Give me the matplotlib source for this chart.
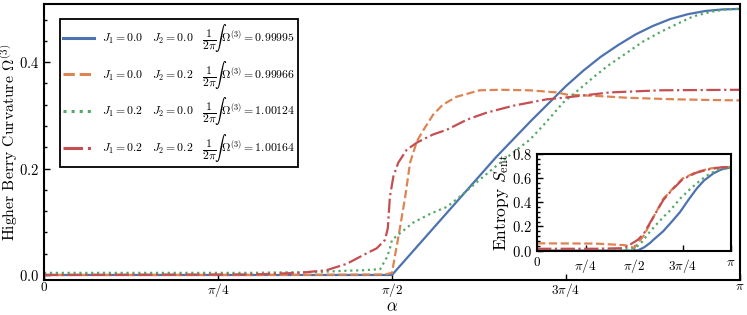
import numpy as np
import matplotlib.pyplot as plt
from matplotlib.ticker import MultipleLocator

plt.rcParams['font.family'] = 'serif'
plt.rcParams['font.serif'] = ['cmr10', 'DejaVu Serif']
plt.rcParams['mathtext.fontset'] = 'cm'
plt.rcParams['axes.formatter.use_mathtext'] = True
plt.rcParams['axes.unicode_minus'] = False

# kleuren (seaborn deep)
c_blue, c_orange, c_green, c_red = '#4C72B0', '#DD8452', '#55A868', '#C44E52'

#%% data hoofdfiguur, x in eenheden van pi
a_blue = [0, 0.5, 0.55, 0.6, 0.65, 0.7, 0.75, 0.775, 0.8, 0.825, 0.85, 0.875,
          0.9, 0.925, 0.95, 0.975, 1.0]
y_blue = [0, 0, 0.074, 0.148, 0.222, 0.29, 0.355, 0.384, 0.41, 0.432, 0.452,
          0.468, 0.481, 0.490, 0.496, 0.499, 0.5]

a_orange = [0, 0.3, 0.49, 0.5, 0.504, 0.511, 0.519, 0.526, 0.536, 0.545, 0.559,
            0.573, 0.593, 0.626, 0.655, 0.698, 0.737, 0.751, 0.8, 0.838, 0.909,
            0.95, 1.0]
y_orange = [0.0, 0.0, 0.001, 0.004, 0.034, 0.085, 0.147, 0.211, 0.252, 0.272,
            0.301, 0.32, 0.335, 0.347, 0.348, 0.347, 0.343, 0.339, 0.336, 0.333,
            0.330, 0.329, 0.328]

a_green = [0, 0.1, 0.2, 0.3, 0.35, 0.4, 0.435, 0.46, 0.483, 0.493, 0.497, 0.5,
           0.514, 0.53, 0.555, 0.579, 0.6, 0.626, 0.65, 0.674, 0.698, 0.72,
           0.746, 0.77, 0.789, 0.81, 0.838, 0.86, 0.885, 0.91, 0.933, 0.96,
           0.98, 1.0]
y_green = [0.004, 0.004, 0.004, 0.004, 0.005, 0.006, 0.008, 0.009, 0.011, 0.034,
           0.05, 0.066, 0.081, 0.098, 0.115, 0.128, 0.15, 0.179, 0.205, 0.23,
           0.254, 0.285, 0.324, 0.35, 0.371, 0.393, 0.418, 0.438, 0.456, 0.472,
           0.486, 0.495, 0.499, 0.5]

a_red = [0, 0.3, 0.368, 0.406, 0.435, 0.464, 0.478, 0.49, 0.494, 0.497, 0.502,
         0.509, 0.521, 0.536, 0.559, 0.579, 0.608, 0.636, 0.674, 0.722, 0.746,
         0.813, 0.885, 1.0]
y_red = [0.0, 0.001, 0.004, 0.009, 0.021, 0.041, 0.05, 0.066, 0.088, 0.147,
         0.185, 0.211, 0.235, 0.249, 0.264, 0.273, 0.292, 0.305, 0.318, 0.33,
         0.333, 0.343, 0.347, 0.348]

#%% data inzet (entropie)
ai_blue = [0, 0.5, 0.52, 0.55, 0.58, 0.6, 0.65, 0.7, 0.737, 0.78, 0.823, 0.86,
           0.909, 0.95, 1.0]
si_blue = [0, 0, 0.003, 0.025, 0.06, 0.09, 0.16, 0.25, 0.32, 0.42, 0.514, 0.58,
           0.64, 0.672, 0.69]
ai_orange = [0, 0.3, 0.45, 0.48, 0.5, 0.516, 0.55, 0.6, 0.651, 0.7, 0.75, 0.82,
             0.89, 0.95, 1.0]
si_orange = [0.06, 0.058, 0.045, 0.035, 0.02, 0.055, 0.125, 0.278, 0.43, 0.514,
             0.597, 0.65, 0.68, 0.69, 0.693]
ai_green = [0, 0.2, 0.4, 0.48, 0.5, 0.52, 0.54, 0.582, 0.617, 0.651, 0.686,
            0.737, 0.789, 0.84, 0.892, 0.943, 1.0]
si_green = [0.006, 0.006, 0.008, 0.012, 0.02, 0.04, 0.07, 0.157, 0.22, 0.278,
            0.333, 0.43, 0.51, 0.58, 0.64, 0.675, 0.69]
ai_red = [0, 0.3, 0.45, 0.49, 0.5, 0.52, 0.55, 0.6, 0.651, 0.7, 0.75, 0.82,
          0.89, 0.95, 1.0]
si_red = [0.015, 0.015, 0.02, 0.06, 0.07, 0.09, 0.14, 0.28, 0.42, 0.51, 0.59,
          0.645, 0.675, 0.69, 0.693]

labels = [r'$J_1 = 0.0\quad J_2 = 0.0\quad \dfrac{1}{2\pi}\!\int\Omega^{(3)} = 0.99995$',
          r'$J_1 = 0.0\quad J_2 = 0.2\quad \dfrac{1}{2\pi}\!\int\Omega^{(3)} = 0.99966$',
          r'$J_1 = 0.2\quad J_2 = 0.0\quad \dfrac{1}{2\pi}\!\int\Omega^{(3)} = 1.00124$',
          r'$J_1 = 0.2\quad J_2 = 0.2\quad \dfrac{1}{2\pi}\!\int\Omega^{(3)} = 1.00164$']

xticks = [0, np.pi/4, np.pi/2, 3*np.pi/4, np.pi]
xticklabels = ['0', r'$\pi/4$', r'$\pi/2$', r'$3\pi/4$', r'$\pi$']

#%% figuur
fig = plt.figure(figsize=(7.47, 3.15), dpi=100)
ax = fig.add_axes([0.0589, 0.111, 0.9317, 0.876])

lw = 1.6
ax.plot(np.array(a_blue)*np.pi, y_blue, color=c_blue, lw=lw, ls='-', label=labels[0])
ax.plot(np.array(a_orange)*np.pi, y_orange, color=c_orange, lw=lw, ls='--', label=labels[1])
ax.plot(np.array(a_green)*np.pi, y_green, color=c_green, lw=lw, ls=':', label=labels[2])
ax.plot(np.array(a_red)*np.pi, y_red, color=c_red, lw=lw, ls='-.', label=labels[3])

ax.set_xlim(0, np.pi)
ax.set_ylim(-0.0095, 0.509)
ax.set_xticks(xticks)
ax.set_xticklabels(xticklabels)
ax.set_yticks([0.0, 0.2, 0.4])
ax.yaxis.set_minor_locator(MultipleLocator(0.04))
ax.tick_params(direction='in', labelsize=9.5, length=4, width=1)
ax.tick_params(axis='y', labelsize=10.5)
ax.tick_params(which='minor', direction='in', length=2.5, width=1)
ax.tick_params(axis='x', pad=1)
ax.set_xlabel(r'$\alpha$', fontsize=12, labelpad=-0.5)
ax.set_ylabel(r'Higher Berry Curvature $\Omega^{(3)}$', fontsize=11.3, labelpad=-0.5)
for sp in ax.spines.values():
    sp.set_linewidth(1.5)

leg = ax.legend(loc='upper left', bbox_to_anchor=(0.023, 0.946), borderaxespad=0,
                fontsize=8.5, labelspacing=0.4, handlelength=2.6, handletextpad=0.7,
                borderpad=0.25, fancybox=False, framealpha=1, edgecolor='black')
leg.get_frame().set_linewidth(1.3)
for h in leg.get_lines():
    h.set_linewidth(2.2)

#%% inzet
axi = fig.add_axes([0.719, 0.203, 0.2597, 0.308])
axi.plot(np.array(ai_blue)*np.pi, si_blue, color=c_blue, lw=lw, ls='-')
axi.plot(np.array(ai_orange)*np.pi, si_orange, color=c_orange, lw=lw, ls='--')
axi.plot(np.array(ai_green)*np.pi, si_green, color=c_green, lw=lw, ls=':')
axi.plot(np.array(ai_red)*np.pi, si_red, color=c_red, lw=lw, ls='-.')
axi.set_xlim(0, np.pi)
axi.set_ylim(-0.004, 0.8)
axi.set_xticks(xticks)
axi.set_xticklabels(xticklabels)
axi.set_yticks([0.0, 0.2, 0.4, 0.6, 0.8])
axi.yaxis.set_minor_locator(MultipleLocator(0.04))
axi.tick_params(direction='in', labelsize=9.5, length=4, width=1)
axi.tick_params(axis='y', labelsize=10.5)
axi.tick_params(which='minor', direction='in', length=2.5, width=1)
axi.tick_params(axis='x', pad=4)
axi.set_ylabel(r'Entropy $S_{\rm ent}$', fontsize=12.5, labelpad=1)
for sp in axi.spines.values():
    sp.set_linewidth(1.5)

plt.savefig('out.png', dpi=100)
